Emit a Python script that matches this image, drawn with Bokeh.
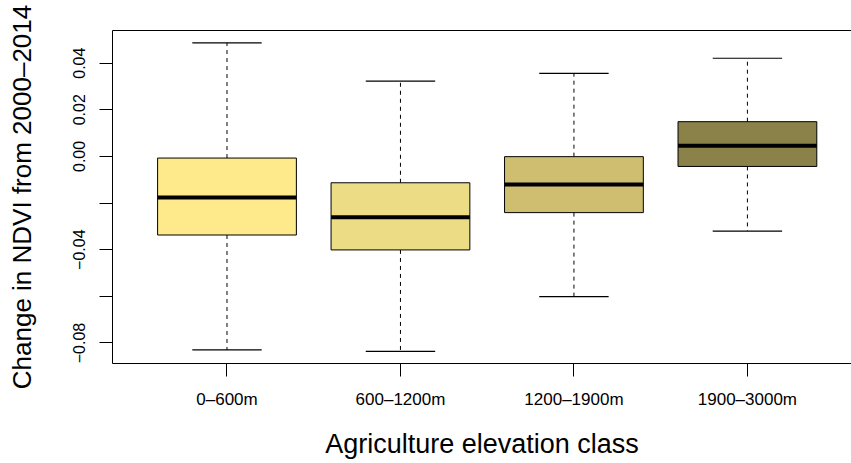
from bokeh.plotting import figure
from bokeh.models import FixedTicker, LinearAxis, Range1d
from bokeh.embed import file_html
from bokeh.resources import INLINE

# ---- data ----
categories = ["0–600m", "600–1200m", "1200–1900m", "1900–3000m"]
lower_whisker = [-0.0830, -0.0836, -0.0601, -0.0320]
q1 = [-0.0337, -0.0401, -0.0241, -0.0043]
median = [-0.0176, -0.0261, -0.0120, 0.0046]
q3 = [-0.0007, -0.0113, -0.0001, 0.0149]
upper_whisker = [0.0487, 0.0323, 0.0356, 0.0421]
fill_colors = ["#FEE98B", "#EDDC86", "#CFBE6F", "#8B8249"]
y_ticks = [-0.08, -0.06, -0.04, -0.02, 0.0, 0.02, 0.04]
y_tick_labels = ["−0.08", "", "−0.04", "", "0.00", "0.02", "0.04"]

xs = [i + 1 for i in range(len(categories))]
box_w = 0.8
cap_w = 0.4

FONT = "Liberation Sans"

p = figure(width=851, height=463, output_backend="svg", toolbar_location=None,
           x_range=Range1d(0.34, 4.60), y_range=Range1d(-0.0888, 0.0540),
           min_border_left=112, min_border_right=0, min_border_top=30,
           min_border_bottom=100)
p.outline_line_color = None
p.xgrid.visible = False
p.ygrid.visible = False
p.background_fill_color = "white"
p.border_fill_color = "white"

# whiskers (dashed)
p.segment(x0=xs, x1=xs, y0=q3, y1=upper_whisker, line_color="black",
          line_width=1, line_dash="4 4")
p.segment(x0=xs, x1=xs, y0=q1, y1=lower_whisker, line_color="black",
          line_width=1, line_dash="4 4")
# caps
p.segment(x0=[x - cap_w / 2 for x in xs], x1=[x + cap_w / 2 for x in xs],
          y0=upper_whisker, y1=upper_whisker, line_color="black", line_width=1.2)
p.segment(x0=[x - cap_w / 2 for x in xs], x1=[x + cap_w / 2 for x in xs],
          y0=lower_whisker, y1=lower_whisker, line_color="black", line_width=1.2)
# boxes
p.vbar(x=xs, width=box_w, bottom=q1, top=q3, fill_color=fill_colors,
       line_color="black", line_width=1)
# medians
p.segment(x0=[x - box_w / 2 for x in xs], x1=[x + box_w / 2 for x in xs],
          y0=median, y1=median, line_color="black", line_width=4)

# x axis
xa = p.xaxis[0]
xa.ticker = FixedTicker(ticks=xs)
xa.major_label_overrides = {x: c for x, c in zip(xs, categories)}
xa.minor_tick_line_color = None
xa.major_tick_out = 13
xa.major_tick_in = 0
xa.major_label_standoff = 13
xa.major_label_text_font = FONT
xa.major_label_text_font_size = "17px"
xa.major_label_text_color = "black"
xa.axis_label = "Agriculture elevation class"
xa.axis_label_text_font = FONT
xa.axis_label_text_font_size = "27px"
xa.axis_label_text_font_style = "normal"
xa.axis_label_text_color = "black"
xa.axis_label_standoff = 17
xa.axis_line_color = "black"
xa.major_tick_line_color = "black"

# y axis
ya = p.yaxis[0]
ya.ticker = FixedTicker(ticks=y_ticks)
ya.major_label_overrides = {t: l for t, l in zip(y_ticks, y_tick_labels)}
ya.minor_tick_line_color = None
ya.major_tick_out = 13
ya.major_tick_in = 0
ya.major_label_standoff = 14
ya.major_label_orientation = "parallel"
ya.major_label_text_font = FONT
ya.major_label_text_font_size = "16px"
ya.major_label_text_color = "black"
ya.axis_label = "Change in NDVI from 2000–2014"
ya.axis_label_text_font = FONT
ya.axis_label_text_font_size = "26px"
ya.axis_label_text_font_style = "normal"
ya.axis_label_text_color = "black"
ya.axis_label_standoff = 34
ya.axis_line_color = "black"
ya.major_tick_line_color = "black"

# top border of the frame
top = LinearAxis(ticker=FixedTicker(ticks=[]), major_label_text_font_size="0px",
                 major_tick_line_color=None, minor_tick_line_color=None,
                 axis_line_color="black")
p.add_layout(top, "above")

open("out.html", "w").write(file_html(p, INLINE))
